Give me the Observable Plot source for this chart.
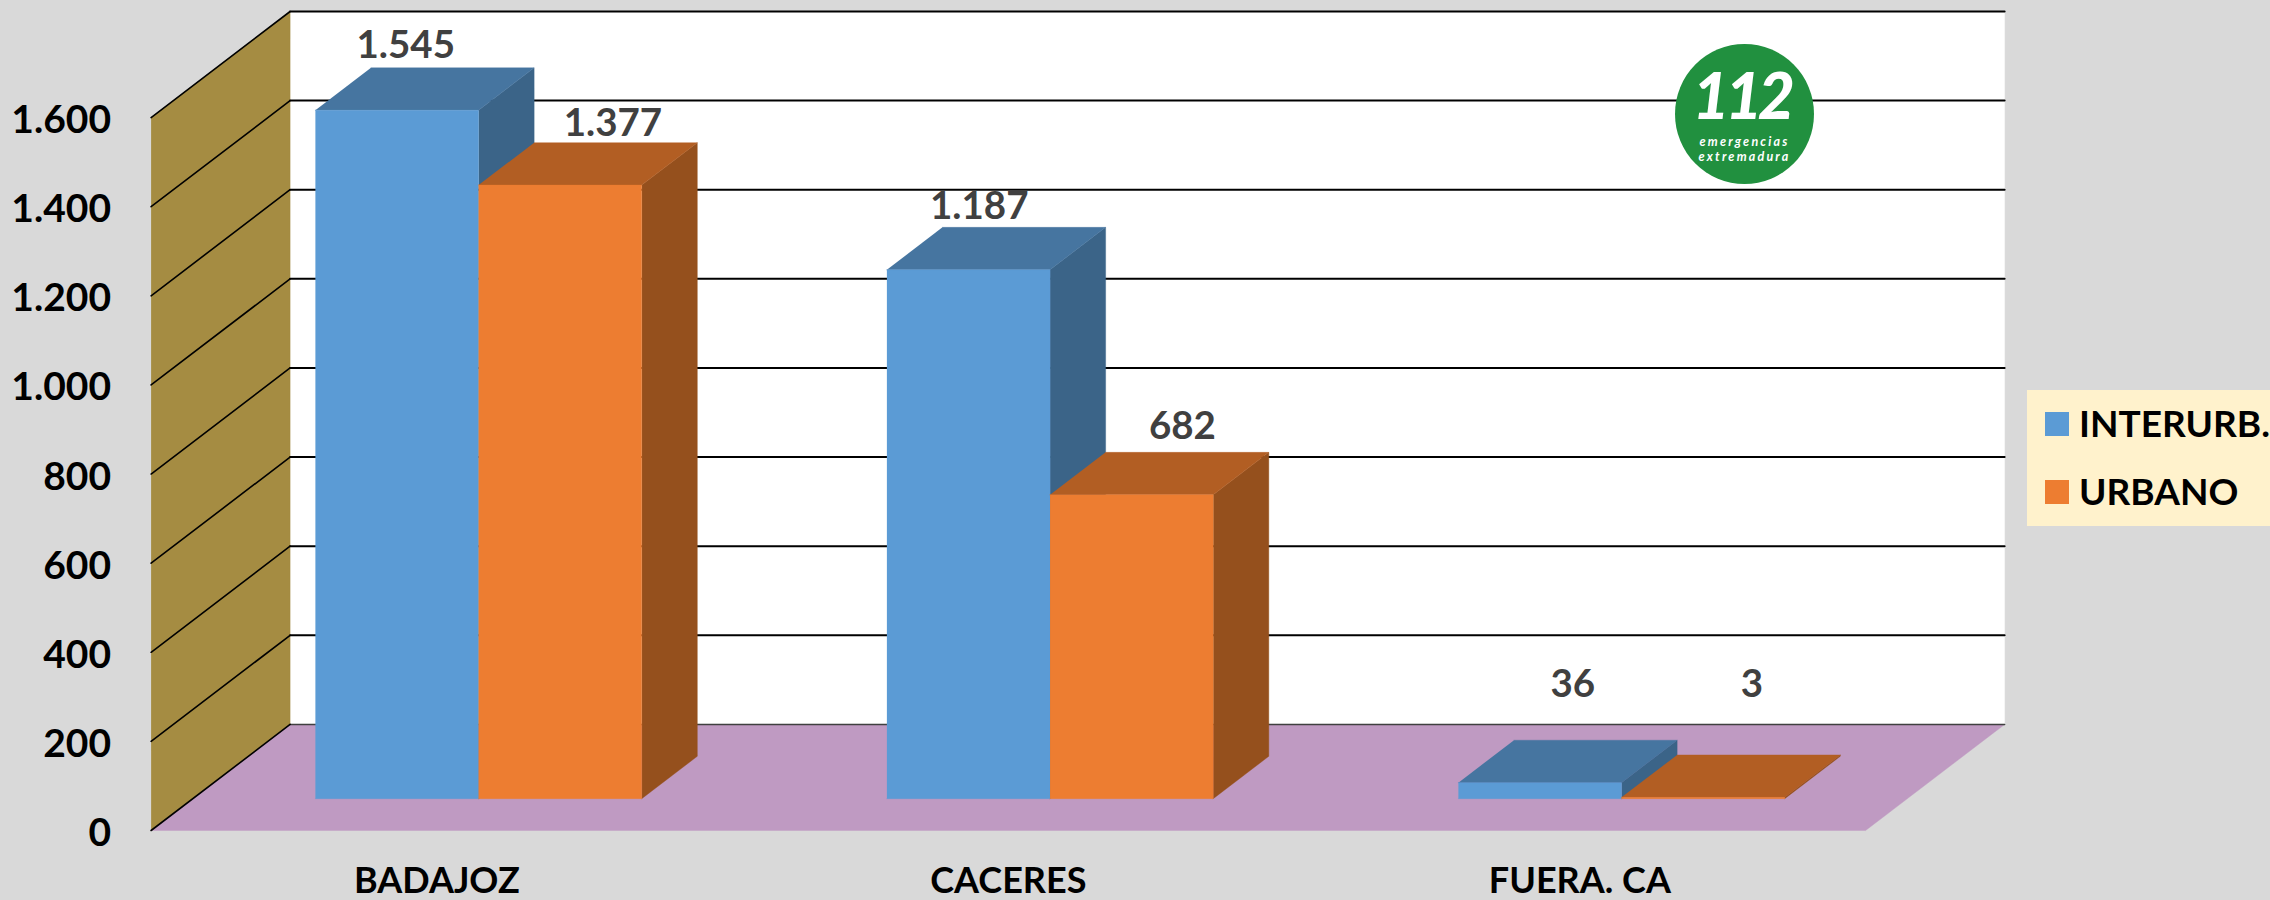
<!DOCTYPE html>
<html lang="es">
<head>
<meta charset="utf-8">
<script src="https://cdn.jsdelivr.net/npm/d3@7"></script>
<script src="https://cdn.jsdelivr.net/npm/@observablehq/plot@0.6"></script>
<style>
  html, body { margin: 0; padding: 0; background: #d9d9d9; overflow: hidden; width: 2270px; height: 900px; }
  #wrap { position: relative; width: 2270px; height: 900px; font-family: Lato, sans-serif; }
  #wrap svg { display: block; position: absolute; left: 0; top: 0; }
  .legend { position: absolute; left: 2027px; top: 390px; width: 243px; height: 136px; background: #fff2cc; }
  .legend i { position: absolute; left: 18px; width: 24px; height: 24px; }
  .legend span { position: absolute; left: 52px; font-size: 37px; font-weight: 700; color: #000; line-height: 44px; white-space: nowrap; }
  .logo { position: absolute; left: 1675px; top: 44px; width: 139px; height: 140px; border-radius: 50%; background: #21903f; color: #fff; }
  .logo b { position: absolute; left: 0; width: 139px; text-align: center; font-style: italic; white-space: nowrap; }
</style>
</head>
<body>
<div id="wrap"></div>
<script>
// ---- data ----
const categories = ["BADAJOZ", "CACERES", "FUERA. CA"];
const interurbano = [1545, 1187, 36];
const urbano = [1377, 682, 3];
const seriesNames = ["INTERURB.", "URBANO"];
const yTicks = [0, 200, 400, 600, 800, 1000, 1200, 1400, 1600];

// ---- styling ----
const palette = [
  {front: "#5b9bd5", top: "#4675a0", side: "#3b6488"},
  {front: "#ed7d31", top: "#b25e23", side: "#95501d"}
];
const wallColor = "#a58c42", floorColor = "#bf9ac2";

// label nudges, per series and category, in pixels
const labelDx = [[-19, -17, 5], [25, 23, 21]];
const labelDy = [[-10, -8, -43], [-7, -13, -58]];

// ---- oblique projection, in scale units ----
const depthX = 139 / 571.5;   // one category width = 571.5 px
const depthY = 238;           // value units of vertical shift across the depth
const nCat = categories.length;
const vMax = yTicks[yTicks.length - 1];
const P = (x, v, z) => ({x: x + z * depthX, y: v + z * depthY});
const poly = (pts, fill) => Plot.line(pts.map(p => P(...p)), {x: "x", y: "y", fill, stroke: fill, strokeWidth: 0.4});
const seg = (a, b, stroke, strokeWidth) => Plot.line([P(...a), P(...b)], {x: "x", y: "y", stroke, strokeWidth});

const fmt = d3.formatLocale({decimal: ",", thousands: ".", grouping: [3], currency: ["", ""]}).format(",");

const gap = 0.2145, barW = 0.2855, z0 = 0.3, z1 = 0.7;
const series = [interurbano, urbano];

const marks = [];
// back wall, side wall, floor
marks.push(poly([[0,0,1],[nCat,0,1],[nCat,vMax,1],[0,vMax,1]], "#ffffff"));
marks.push(poly([[0,0,0],[0,0,1],[0,vMax,1],[0,vMax,0]], wallColor));
marks.push(poly([[0,0,0],[nCat,0,0],[nCat,0,1],[0,0,1]], floorColor));
// gridlines
for (const v of yTicks) {
  marks.push(seg([0,v,1],[nCat,v,1], v === 0 ? "#404040" : "#000000", v === 0 ? 1.5 : 2));
  marks.push(seg([0,v,0],[0,v,1], "#000000", 1.6));
}
// bars
categories.forEach((c, i) => {
  series.forEach((vals, s) => {
    const v = vals[i], a = i + gap + s * barW, b = a + barW, col = palette[s];
    marks.push(poly([[b,0,z0],[b,0,z1],[b,v,z1],[b,v,z0]], col.side));
    marks.push(poly([[a,v,z0],[b,v,z0],[b,v,z1],[a,v,z1]], col.top));
    marks.push(poly([[a,0,z0],[b,0,z0],[b,v,z0],[a,v,z0]], col.front));
  });
});
// value labels
categories.forEach((c, i) => {
  series.forEach((vals, s) => {
    const v = vals[i], a = i + gap + s * barW, b = a + barW;
    const top = P((a + b) / 2, v, (z0 + z1) / 2);
    const back = P(0, v, z1);
    marks.push(Plot.text([{x: top.x, y: back.y, t: fmt(v)}], {
      x: "x", y: "y", text: "t", fill: "#404040", fontSize: 38.5, fontWeight: 700,
      lineAnchor: "bottom", dx: labelDx[s][i], dy: labelDy[s][i]
    }));
  });
});
// axes
marks.push(Plot.axisY(yTicks, {
  anchor: "left", tickSize: 0, tickPadding: 40, label: null, tickFormat: fmt,
  fontSize: 39, fontWeight: 700, fill: "#000000", dy: 3
}));
marks.push(Plot.axisX(categories.map((c, i) => i + 0.5), {
  anchor: "bottom", tickSize: 0, tickPadding: 36.5, label: null,
  tickFormat: d => categories[Math.floor(d)],
  fontSize: 36, fontWeight: 700, fill: "#000000"
}));

const chart = Plot.plot({
  width: 2270, height: 900,
  marginLeft: 150.6, marginRight: 265.9, marginTop: 11, marginBottom: 70,
  x: {domain: [0, nCat + depthX]},
  y: {domain: [0, vMax + depthY]},
  style: {background: "transparent", fontFamily: "Lato, sans-serif"},
  marks
});

const wrap = document.getElementById("wrap");
wrap.appendChild(chart);

// logo
const logo = document.createElement("div");
logo.className = "logo";
logo.innerHTML =
  '<b style="left:-3px;top:19px;height:64px;font-size:64px;font-weight:900;line-height:64px;letter-spacing:-4.5px">112</b>' +
  '<b style="top:89.7px;height:15px;font-size:12.5px;font-weight:700;line-height:15px;letter-spacing:2.2px">emergencias</b>' +
  '<b style="top:104.7px;height:15px;font-size:12.5px;font-weight:700;line-height:15px;letter-spacing:2.2px">extremadura</b>';
wrap.appendChild(logo);

// legend
const legend = document.createElement("div");
legend.className = "legend";
seriesNames.forEach((name, s) => {
  const sw = document.createElement("i");
  sw.style.top = (22 + s * 68) + "px";
  sw.style.background = palette[s].front;
  legend.appendChild(sw);
  const t = document.createElement("span");
  t.style.top = (11 + s * 68) + "px";
  t.textContent = name;
  legend.appendChild(t);
});
wrap.appendChild(legend);
</script>
</body>
</html>
